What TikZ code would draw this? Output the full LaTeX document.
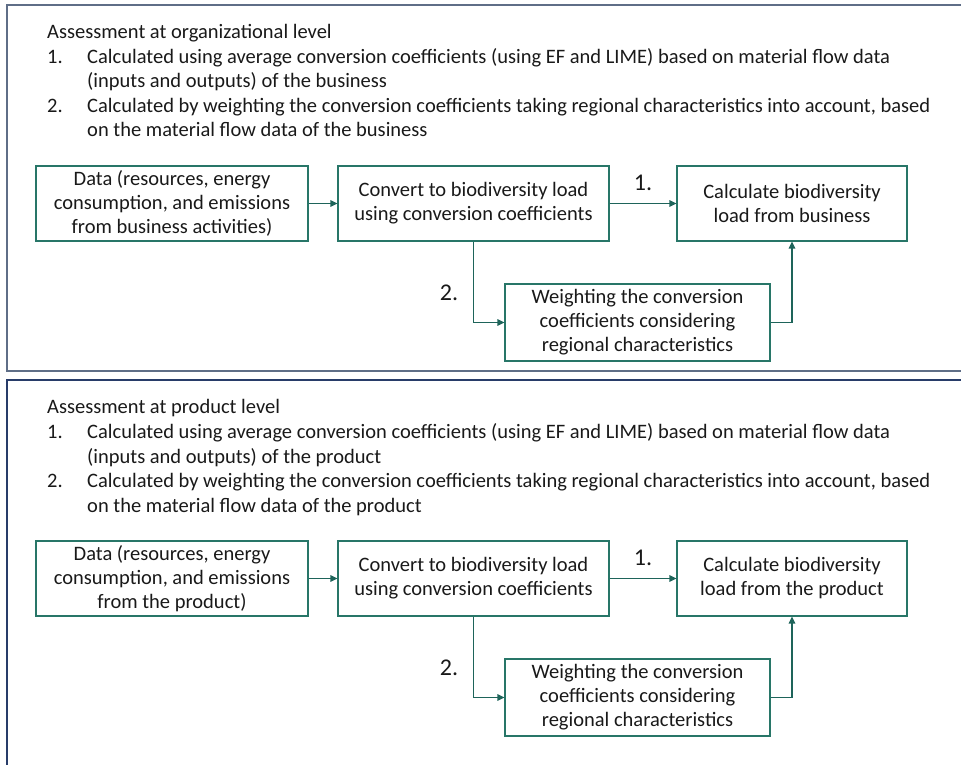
\documentclass[tikz,border=0pt]{standalone}
\usepackage{fontspec}
\setmainfont{Carlito}
\usetikzlibrary{arrows.meta}
\definecolor{boxc}{RGB}{40,118,104}
\definecolor{arrc}{RGB}{30,100,90}
\definecolor{frameA}{RGB}{95,110,135}
\definecolor{frameB}{RGB}{40,60,105}
\definecolor{txt}{RGB}{25,25,25}
\tikzset{
  fbox/.style={draw=boxc, line width=1.1pt, align=center, inner sep=0pt, text=txt,
    font=\fontsize{20.5}{24}\selectfont},
  conn/.style={draw=arrc, line width=1.2pt, -{Triangle[length=7pt,width=6.5pt]}},
  ln/.style={anchor=base west, inner sep=0pt, text=txt, font=\fontsize{20.5}{24}\selectfont},
  lbl/.style={inner sep=0pt, text=txt, font=\fontsize{24}{24}\selectfont}
}
\begin{document}
\begin{tikzpicture}[x=1pt,y=-1pt]
\useasboundingbox (0,0) rectangle (961,765);
% frames
\draw[frameA, line width=1.5pt] (975,5) -- (7,5) -- (7,371) -- (975,371);
\draw[frameB, line width=1.5pt] (975,380) -- (7,380) -- (7,780);

\foreach \oy/\who/\dataC/\calcC in {0/business/{from business activities)}/{load from business},
                                    375/product/{from the product)}/{load from the product}} {
  \begin{scope}[yshift=-\oy]
  \node[ln] (t\who) at (47,38.5) {Assessment at \ifnum\oy=0 organizational\else product\fi{} level};
  \node[ln] (na\who) at (47,63.5) {1.};
  \node[ln] (a\who) at (87,63.5) {Calculated using average conversion coefficients (using EF and LIME) based on material flow data};
  \node[ln] (b\who) at (87,88) {(inputs and outputs) of the \who};
  \node[ln] (nc\who) at (47,112.5) {2.};
  \node[ln] (c\who) at (87,112.5) {Calculated by weighting the conversion coefficients taking regional characteristics into account, based};
  \node[ln] (d\who) at (87,137) {on the material flow data of the \who};

  \node[fbox, minimum width=272pt, minimum height=75pt] (data\who) at (172,203.5)
     {Data (resources, energy\\consumption, and emissions\\\dataC};
  \node[fbox, minimum width=271pt, minimum height=75pt] (conv\who) at (473.5,203.5)
     {Convert to biodiversity load\\using conversion coefficients};
  \node[fbox, minimum width=230pt, minimum height=75pt] (calc\who) at (792,203.5)
     {Calculate biodiversity\\\calcC};
  \node[fbox, minimum width=265pt, minimum height=77pt] (w\who) at (637.5,322.5)
     {Weighting the conversion\\coefficients considering\\regional characteristics};

  \draw[conn] (data\who) -- (conv\who);
  \draw[conn] (conv\who) -- (calc\who);
  \draw[conn] (conv\who.south) |- (w\who.west);
  \draw[conn] (w\who.east) -| (calc\who.south);
  \node[lbl] (l1\who) at (643,183) {1.};
  \node[lbl] (l2\who) at (449,293) {2.};
  \end{scope}
}
\end{tikzpicture}
\end{document}
